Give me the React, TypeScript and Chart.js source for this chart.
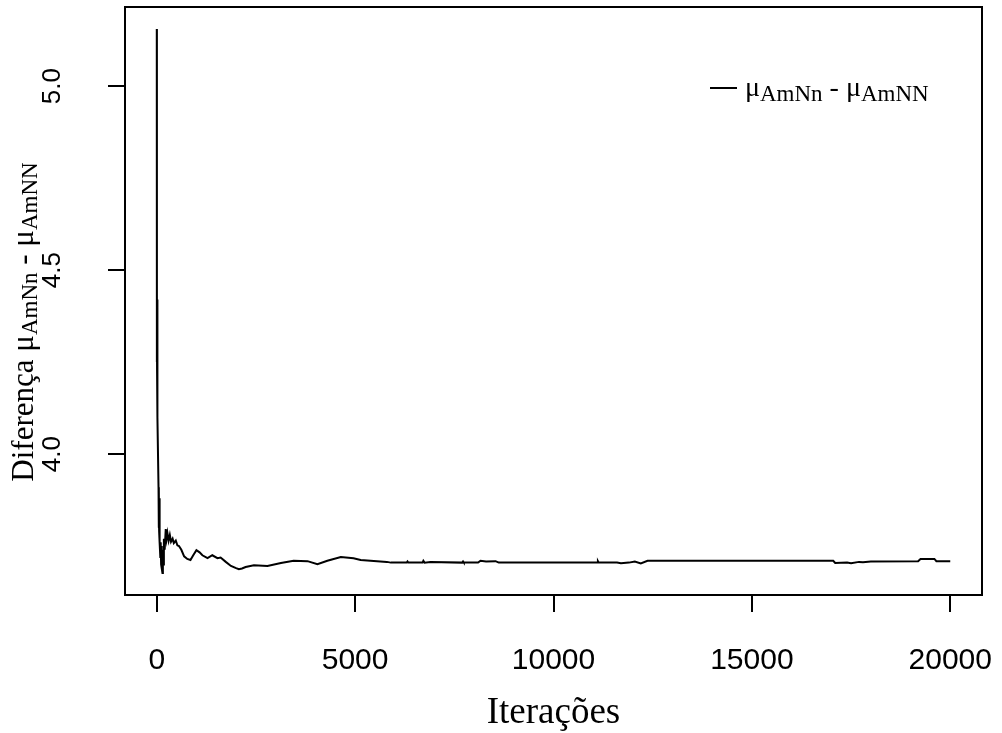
import React, { useEffect, useRef } from "react";
import { Chart, registerables } from "chart.js";

Chart.register(...registerables);

// ---- data ----
const iterations = [
  1, 2, 4, 6, 8, 10, 12, 14, 16, 18, 20, 30, 45, 50, 55, 60, 65, 70, 75, 80,
  90, 100, 110, 120, 130, 144, 155, 165, 180, 200, 227, 250, 270, 300, 330,
  360, 400, 430, 480, 520, 560, 620, 690, 770, 850, 920, 1000, 1080, 1150,
  1280, 1400, 1530, 1610, 1740, 1870, 2000, 2070, 2150, 2240, 2450, 2790,
  3130, 3450, 3800, 4050, 4300, 4640, 4960, 5140, 5800, 5900, 6300, 6320,
  6340, 6700, 6720, 6750, 6900, 7700, 7720, 7740, 8100, 8160, 8300, 8540,
  8620, 11100, 11120, 11140, 11600, 11700, 11900, 12050, 12200, 12370,
  17050, 17100, 17400, 17500, 17700, 17800, 18000, 19190, 19250, 19600,
  19650, 20000,
];
const diffValues = [
  5.155, 4.43, 4.25, 4.4, 4.23, 4.42, 4.22, 4.38, 4.24, 4.35, 4.22, 4.1, 3.91,
  3.8, 3.9, 3.79, 3.88, 3.785, 3.85, 3.76, 3.72, 3.76, 3.7, 3.75, 3.69, 3.677,
  3.74, 3.7, 3.77, 3.74, 3.796, 3.77, 3.785, 3.765, 3.78, 3.762, 3.77, 3.758,
  3.765, 3.752, 3.75, 3.74, 3.722, 3.715, 3.712, 3.725, 3.739, 3.733, 3.725,
  3.717, 3.725, 3.717, 3.719, 3.707, 3.696, 3.69, 3.687, 3.689, 3.693, 3.698,
  3.696, 3.704, 3.71, 3.709, 3.701, 3.71, 3.72, 3.717, 3.712, 3.707, 3.705,
  3.705, 3.708, 3.705, 3.705, 3.71, 3.705, 3.707, 3.705, 3.708, 3.705, 3.705,
  3.71, 3.708, 3.709, 3.705, 3.705, 3.709, 3.705, 3.705, 3.703, 3.705, 3.708,
  3.703, 3.71, 3.71, 3.704, 3.705, 3.703, 3.707, 3.706, 3.708, 3.709, 3.715,
  3.715, 3.709, 3.709,
];
const xTickValues = [0, 5000, 10000, 15000, 20000];
const yTickValues = [4.0, 4.5, 5.0];
const xLimits = [-800, 20800];
const yLimits = [3.617, 5.215];
const xTitle = "Iterações";
const yTitleWord = "Diferença ";
const seriesLabel = [
  { text: "μ", sub: false },
  { text: "AmNn", sub: true },
  { text: " - ", sub: false },
  { text: "μ", sub: false },
  { text: "AmNN", sub: true },
];

const SERIF = '"Liberation Serif", "Times New Roman", serif';
const SANS = '"Liberation Sans", Arial, sans-serif';

type Part = { text: string; size: number; dy: number };

function richWidth(ctx: CanvasRenderingContext2D, parts: Part[]) {
  let w = 0;
  for (const p of parts) {
    ctx.font = `${p.size}px ${SERIF}`;
    w += ctx.measureText(p.text).width;
  }
  return w;
}

function drawRich(ctx: CanvasRenderingContext2D, parts: Part[], x: number, y: number) {
  let cx = x;
  for (const p of parts) {
    ctx.font = `${p.size}px ${SERIF}`;
    ctx.fillText(p.text, cx, y + p.dy);
    cx += ctx.measureText(p.text).width;
  }
}

const decorPlugin = {
  id: "decor",
  afterDraw(chart: any) {
    const { ctx, chartArea: a } = chart;
    ctx.save();
    // plot box
    ctx.strokeStyle = "#000";
    ctx.lineWidth = 2;
    ctx.strokeRect(a.left, a.top, a.right - a.left, a.bottom - a.top);

    ctx.fillStyle = "#000";
    ctx.textAlign = "left";
    ctx.textBaseline = "alphabetic";

    // legend
    ctx.beginPath();
    ctx.moveTo(710, 88);
    ctx.lineTo(737, 88);
    ctx.stroke();
    const legParts: Part[] = seriesLabel.map((p) => ({
      text: p.text,
      size: p.sub ? 23 : 28,
      dy: p.sub ? 5 : 0,
    }));
    drawRich(ctx, legParts, 745, 96);

    // y title (rotated)
    const yParts: Part[] = [
      { text: yTitleWord, size: 31, dy: 0 },
      ...seriesLabel.map((p) => ({
        text: p.text,
        size: p.sub ? 23 : 31,
        dy: p.sub ? 4 : 0,
      })),
    ];
    ctx.save();
    ctx.translate(33, 322);
    ctx.rotate(-Math.PI / 2);
    const w = richWidth(ctx, yParts);
    drawRich(ctx, yParts, -w / 2, 0);
    ctx.restore();

    // x title
    ctx.font = `37px ${SERIF}`;
    ctx.textAlign = "center";
    ctx.fillText(xTitle, (a.left + a.right) / 2, 723);
    ctx.restore();
  },
};

export default function App() {
  const ref = useRef<HTMLCanvasElement | null>(null);

  useEffect(() => {
    document.body.style.margin = "0";
    const canvas = ref.current;
    if (!canvas) return;
    const chart = new Chart(canvas, {
      type: "line",
      data: {
        datasets: [
          {
            data: iterations.map((it, i) => ({ x: it, y: diffValues[i] })),
            borderColor: "#000",
            borderWidth: 2,
            pointRadius: 0,
            tension: 0,
            fill: false,
          },
        ],
      },
      options: {
        responsive: false,
        animation: false,
        devicePixelRatio: 1,
        layout: { padding: { top: 7, right: 20, left: 0, bottom: 0 } },
        plugins: {
          legend: { display: false },
          tooltip: { enabled: false },
          title: { display: false },
        },
        scales: {
          x: {
            type: "linear",
            min: xLimits[0],
            max: xLimits[1],
            afterBuildTicks: (s: any) => {
              s.ticks = xTickValues.map((v) => ({ value: v }));
            },
            afterFit: (s: any) => {
              s.height = 138;
              s.paddingLeft = 0;
              s.paddingRight = 0;
            },
            border: { display: false },
            grid: {
              drawOnChartArea: false,
              drawTicks: true,
              tickLength: 17,
              color: "#000",
              lineWidth: 2,
            },
            ticks: {
              color: "#000",
              font: { family: SANS, size: 30 },
              padding: 31,
              maxRotation: 0,
              minRotation: 0,
              autoSkip: false,
              callback: (v: any) => String(v),
            },
          },
          y: {
            type: "linear",
            min: yLimits[0],
            max: yLimits[1],
            afterBuildTicks: (s: any) => {
              s.ticks = yTickValues.map((v) => ({ value: v }));
            },
            afterFit: (s: any) => {
              s.width = 125;
              s.paddingTop = 0;
              s.paddingBottom = 0;
            },
            border: { display: false },
            grid: {
              drawOnChartArea: false,
              drawTicks: true,
              tickLength: 17,
              color: "#000",
              lineWidth: 2,
            },
            ticks: {
              color: "#000",
              font: { family: SANS, size: 26 },
              padding: 37,
              minRotation: 90,
              maxRotation: 90,
              crossAlign: "center",
              autoSkip: false,
              callback: (v: any) => Number(v).toFixed(1),
            },
          },
        },
      } as any,
      plugins: [decorPlugin],
    });
    return () => chart.destroy();
  }, []);

  return (
    <canvas
      ref={ref}
      width={1002}
      height={733}
      style={{ display: "block", width: 1002, height: 733 }}
    />
  );
}
